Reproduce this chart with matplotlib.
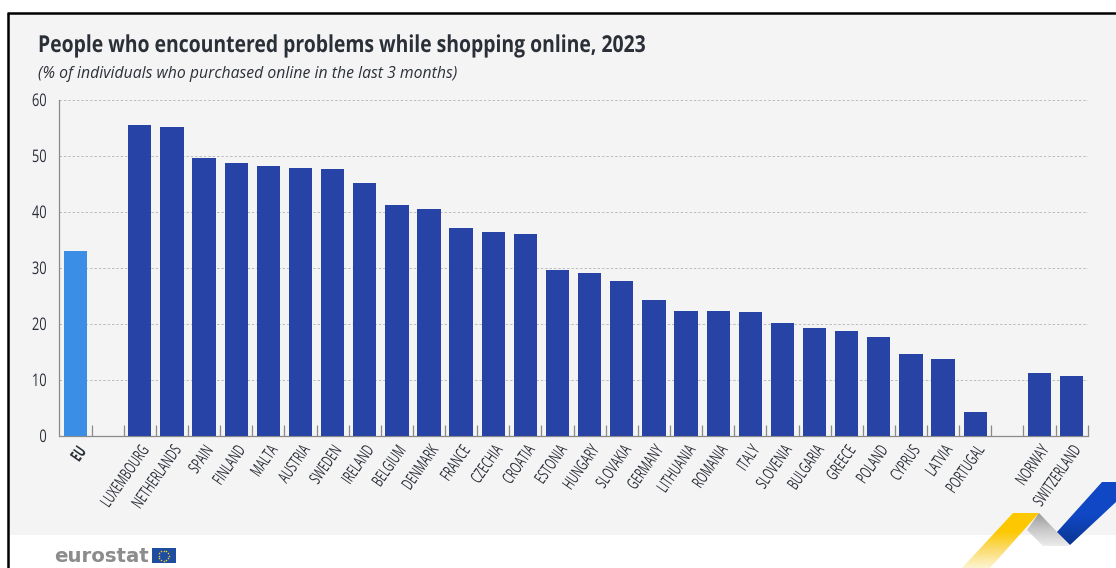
import numpy as np
import matplotlib
matplotlib.use('Agg')
import matplotlib.pyplot as plt
from matplotlib.colors import LinearSegmentedColormap
from matplotlib.patches import Polygon, Rectangle
from matplotlib.patheffects import AbstractPathEffect
from matplotlib.transforms import Affine2D

countries = ['LUXEMBOURG', 'NETHERLANDS', 'SPAIN', 'FINLAND', 'MALTA', 'AUSTRIA', 'SWEDEN',
             'IRELAND', 'BELGIUM', 'DENMARK', 'FRANCE', 'CZECHIA', 'CROATIA', 'ESTONIA',
             'HUNGARY', 'SLOVAKIA', 'GERMANY', 'LITHUANIA', 'ROMANIA', 'ITALY', 'SLOVENIA',
             'BULGARIA', 'GREECE', 'POLAND', 'CYPRUS', 'LATVIA', 'PORTUGAL']
country_values = [55.5, 55.2, 49.7, 48.7, 48.2, 47.8, 47.7, 45.1, 41.3, 40.6, 37.1, 36.4, 36.1,
                  29.7, 29.1, 27.7, 24.2, 22.4, 22.3, 22.1, 20.1, 19.3, 18.7, 17.7, 14.7, 13.7, 4.3]
eu_value = [33.0]
efta = ['NORWAY', 'SWITZERLAND']
efta_values = [11.3, 10.8]
y_ticks = [0, 10, 20, 30, 40, 50, 60]

W, H = 1116, 568
FONT = 'Open Sans'
TEXT = '#2b2f38'


class Condense(AbstractPathEffect):
    # no condensed font here, so squeeze the glyphs along the baseline
    def __init__(self, sx, keep_right=False):
        super().__init__()
        self.sx = sx
        self.keep_right = keep_right

    def draw_path(self, renderer, gc, tpath, affine, rgbFace=None):
        dx = (1 - self.sx) * tpath.get_extents().x1 if self.keep_right else 0
        squeeze = Affine2D().scale(self.sx, 1).translate(dx, 0)
        renderer.draw_path(gc, tpath, squeeze + affine, rgbFace)


fig = plt.figure(figsize=(W / 100, H / 100), dpi=100, facecolor='white')

# page background in pixel coordinates
bg = fig.add_axes([0, 0, 1, 1], zorder=0)
bg.set_xlim(0, W)
bg.set_ylim(H, 0)
bg.axis('off')
bg.add_patch(Rectangle((8, 13), W - 8, 522, fc='#f4f4f4', ec='none'))
bg.plot([8, 8], [H, 13], color='black', lw=1.8, solid_capstyle='butt')
bg.plot([7, W], [13, 13], color='black', lw=1.8, solid_capstyle='butt')

# chart
left, right, top, bottom = 59.5, 1087.7, 100, 436
ax = fig.add_axes([left / W, 1 - bottom / H, (right - left) / W, (bottom - top) / H], zorder=1)
ax.patch.set_alpha(0)

eu_x = [0]
country_x = list(range(2, 2 + len(countries)))
efta_x = [country_x[-1] + 2, country_x[-1] + 3]
ax.bar(eu_x, eu_value, width=0.725, color='#3a8ee6', zorder=3)
ax.bar(country_x, country_values, width=0.725, color='#2643a5', zorder=3)
ax.bar(efta_x, efta_values, width=0.725, color='#2643a5', zorder=3)

ax.set_xlim(-0.5, 31.5)
ax.set_ylim(0, 60)
ax.set_yticks(y_ticks)
ax.tick_params(axis='y', length=0, pad=9, labelsize=12.5, labelcolor=TEXT)
for lab in ax.get_yticklabels():
    lab.set_fontfamily(FONT)
    lab.set_path_effects([Condense(0.74, keep_right=True)])
ax.grid(axis='y', color='#bdbdbd', lw=0.7, ls=(0, (2.5, 2)), zorder=1)
ax.set_axisbelow(True)

ax.set_xticks(eu_x + country_x + efta_x)
ax.set_xticklabels(['EU'] + countries + efta, rotation=55, ha='right', va='top',
                   rotation_mode='anchor', family=FONT, fontsize=12, color=TEXT)
for lab in ax.get_xticklabels():
    lab.set_path_effects([Condense(0.63, keep_right=True)])
ax.get_xticklabels()[0].set_fontweight('bold')
ax.tick_params(axis='x', which='major', length=0, pad=5)
ax.set_xticks(np.arange(0.5, 32, 1), minor=True)
ax.tick_params(axis='x', which='minor', direction='in', length=8, width=0.9, color='#8a8a8a')

for side in ['top', 'right']:
    ax.spines[side].set_visible(False)
ax.spines['left'].set_color('#8a8a8a')
ax.spines['left'].set_linewidth(0.9)
ax.spines['bottom'].set_color('#8a8a8a')
ax.spines['bottom'].set_linewidth(0.9)

# title
title = fig.text(38 / W, 1 - 46 / H, 'People who encountered problems while shopping online, 2023',
                 family=FONT, fontweight='bold', fontsize=16.8, color=TEXT, va='center')
title.set_path_effects([Condense(0.83)])
fig.text(38 / W, 1 - 74.5 / H, '(% of individuals who purchased online in the last 3 months)',
         family=FONT, style='italic', fontsize=11.3, color=TEXT, va='center')

# footer logo and ribbons, on top of the chart
deco = fig.add_axes([0, 0, 1, 1], zorder=2)
deco.set_xlim(0, W)
deco.set_ylim(H, 0)
deco.axis('off')
deco.patch.set_alpha(0)

deco.text(54, 556, 'eurostat', family='DejaVu Sans', fontweight='bold', fontsize=14.2,
          color='#8c8c8c', va='center')
deco.add_patch(Rectangle((152, 548), 23.5, 15, fc='#1f4ea1', ec='none'))
angles = np.linspace(0, 2 * np.pi, 12, endpoint=False)
deco.scatter(163.7 + 5 * np.cos(angles), 555.5 + 5 * np.sin(angles), s=1.2, color='#f5d020', lw=0)


def ribbon(points, colors, extent):
    cmap = LinearSegmentedColormap.from_list('r', colors)
    grad = np.linspace(0, 1, 200).reshape(-1, 1)
    im = deco.imshow(grad, extent=extent, cmap=cmap, aspect='auto', zorder=4, origin='upper')
    poly = Polygon(points, closed=True, transform=deco.transData, fc='none', ec='none')
    deco.add_patch(poly)
    im.set_clip_path(poly)


# extent is left, right, bottom, top in the inverted pixel axes
ribbon([(1013, 513), (1039, 513), (990, 568), (962, 568)],
       ['#fdc800', '#fdc800', '#fbdc70', '#fdf4d0'], (960, 1040, 568, 513))
ribbon([(1039, 513), (1027, 530), (1043, 546), (1070, 546), (1057, 532)],
       ['#9a9a9a', '#c8c8c8', '#ececec'], (1027, 1070, 546, 513))
ribbon([(1057, 532), (1102, 482), (1116, 482), (1116, 502), (1070, 545)],
       ['#0f47c4', '#1048c6', '#0a3590'], (1057, 1116, 546, 482))
deco.set_xlim(0, W)
deco.set_ylim(H, 0)

fig.savefig('out.png', dpi=100)
